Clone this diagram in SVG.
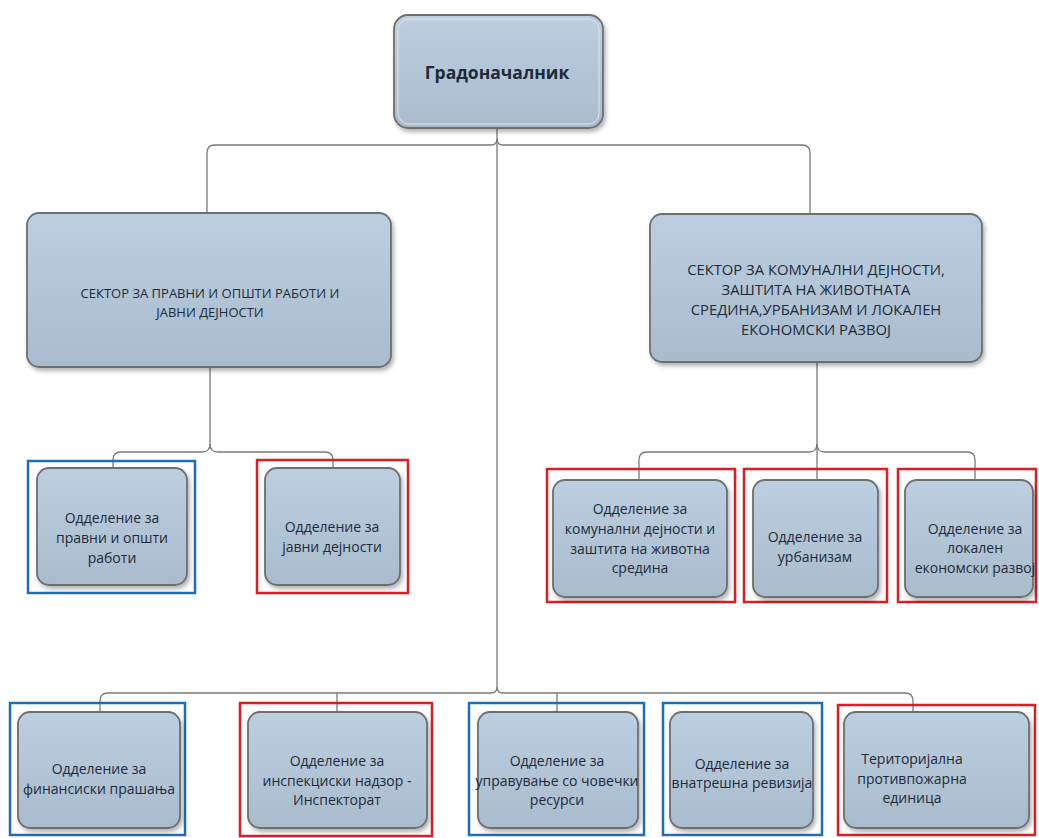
<svg xmlns="http://www.w3.org/2000/svg" width="1039" height="838" viewBox="0 0 1039 838">
<defs>
<linearGradient id="g" x1="0" y1="0" x2="0" y2="1">
<stop offset="0" stop-color="#bccfe1"/>
<stop offset="1" stop-color="#a8bcce"/>
</linearGradient>
<filter id="sh" x="-10%" y="-10%" width="125%" height="125%">
<feDropShadow dx="2" dy="3" stdDeviation="2" flood-color="#000" flood-opacity="0.3"/>
</filter>
<style>
.box{fill:url(#g);stroke:#6e6e6e;stroke-width:1.8;filter:url(#sh)}
.inner{fill:none;stroke:#dde6ef;stroke-width:1}
.conn{fill:none;stroke:#7a7a7a;stroke-width:1.3}
.fb{fill:none;stroke:#1c6fb5;stroke-width:2.5}
.fr{fill:none;stroke:#e01b22;stroke-width:2.5}
text{font-family:"Open Sans","Noto Sans",sans-serif;fill:#1e2a38;text-anchor:middle}
.t{font-size:14px}
.s{font-size:13px}
.s2{font-size:14.8px}
.h{font-size:17.5px;font-weight:bold}
</style>
</defs>
<rect width="1039" height="838" fill="#fff"/>
<g id="connectors">
<path class="conn" d="M497,128 V139 Q497,145 491,145 H215 Q207,145 207,153 V213"/>
<path class="conn" d="M497,139 Q497,145 503,145 H802 Q810,145 810,153 V214"/>
<path class="conn" d="M497,139 V687 Q497,693 491,693 H108 Q100,693 100,701 V712"/>
<path class="conn" d="M497,687 Q497,693 503,693 H905 Q913,693 913,701 V712"/>
<path class="conn" d="M337,693 V712 M557,693 V712"/>
<path class="conn" d="M210,367 V444 Q210,452 202,452 H121 Q113,452 113,460 V468"/>
<path class="conn" d="M210,444 Q210,452 218,452 H325 Q333,452 333,460 V468"/>
<path class="conn" d="M817,362 V444 Q817,452 809,452 H647 Q639,452 639,460 V480"/>
<path class="conn" d="M817,444 Q817,452 825,452 H967 Q975,452 975,460 V480"/>
<path class="conn" d="M817,444 V480"/>
</g>
<g id="mayor">
<rect class="box" x="394" y="15" width="209" height="113" rx="14"/>
<rect class="inner" x="398" y="19" width="201" height="105" rx="11"/>
<text class="h" x="497" y="79">Градоначалник</text>
</g>
<g id="sector1">
<rect class="box" x="27" y="213" width="364" height="154" rx="12"/>
<text class="s"><tspan x="210" y="298">СЕКТОР ЗА ПРАВНИ И ОПШТИ РАБОТИ И</tspan><tspan x="210" y="317">ЈАВНИ ДЕЈНОСТИ</tspan></text>
</g>
<g id="sector2">
<rect class="box" x="650" y="214" width="332" height="148" rx="12"/>
<text class="s2"><tspan x="816" y="275">СЕКТОР ЗА КОМУНАЛНИ ДЕЈНОСТИ,</tspan><tspan x="816" y="295">ЗАШТИТА НА ЖИВОТНАТА</tspan><tspan x="816" y="315">СРЕДИНА,УРБАНИЗАМ И ЛОКАЛЕН</tspan><tspan x="816" y="335">ЕКОНОМСКИ РАЗВОЈ</tspan></text>
</g>
<g id="dept-legal">
<rect class="fb" x="28" y="461" width="167" height="132"/>
<rect class="box" x="37" y="468" width="150" height="117" rx="12"/>
<text class="t"><tspan x="112" y="523">Одделение за</tspan><tspan x="112" y="543">правни и општи</tspan><tspan x="112" y="563">работи</tspan></text>
</g>
<g id="dept-public">
<rect class="fr" x="257" y="460" width="151" height="133"/>
<rect class="box" x="265" y="468" width="135" height="117" rx="12"/>
<text class="t"><tspan x="332" y="532">Одделение за</tspan><tspan x="332" y="552">јавни дејности</tspan></text>
</g>
<g id="dept-communal">
<rect class="fr" x="547" y="469" width="188" height="133"/>
<rect class="box" x="553" y="480" width="174" height="117" rx="12"/>
<text class="t"><tspan x="640" y="514">Одделение за</tspan><tspan x="640" y="534">комунални дејности и</tspan><tspan x="640" y="554">заштита на животна</tspan><tspan x="640" y="573">средина</tspan></text>
</g>
<g id="dept-urban">
<rect class="fr" x="744" y="469" width="143" height="133"/>
<rect class="box" x="753" y="480" width="125" height="117" rx="12"/>
<text class="t"><tspan x="815" y="542">Одделение за</tspan><tspan x="815" y="562">урбанизам</tspan></text>
</g>
<g id="dept-led">
<rect class="fr" x="898" y="469" width="138" height="133"/>
<rect class="box" x="905" y="480" width="128" height="117" rx="12"/>
<text class="t"><tspan x="975" y="534">Одделение за</tspan><tspan x="975" y="553">локален</tspan><tspan x="975" y="573">економски развој</tspan></text>
</g>
<g id="dept-finance">
<rect class="fb" x="10" y="703" width="175" height="132"/>
<rect class="box" x="18" y="712" width="162" height="116" rx="12"/>
<text class="t"><tspan x="99" y="774">Одделение за</tspan><tspan x="99" y="794">финансиски прашања</tspan></text>
</g>
<g id="dept-inspection">
<rect class="fr" x="240" y="703" width="192" height="133"/>
<rect class="box" x="248" y="712" width="179" height="116" rx="12"/>
<text class="t"><tspan x="337" y="766">Одделение за</tspan><tspan x="337" y="786">инспекциски надзор -</tspan><tspan x="337" y="805">Инспекторат</tspan></text>
</g>
<g id="dept-hr">
<rect class="fb" x="469" y="703" width="175" height="132"/>
<rect class="box" x="478" y="712" width="160" height="116" rx="12"/>
<text class="t"><tspan x="557" y="766">Одделение за</tspan><tspan x="557" y="786">управување со човечки</tspan><tspan x="557" y="805">ресурси</tspan></text>
</g>
<g id="dept-audit">
<rect class="fb" x="663" y="703" width="159" height="132"/>
<rect class="box" x="670" y="712" width="143" height="116" rx="12"/>
<text class="t"><tspan x="742" y="769">Одделение за</tspan><tspan x="742" y="788">внатрешна ревизија</tspan></text>
</g>
<g id="fire-unit">
<rect class="fr" x="838" y="705" width="197" height="130"/>
<rect class="box" x="844" y="712" width="185" height="116" rx="12"/>
<text class="t"><tspan x="912" y="764">Територијална</tspan><tspan x="912" y="784">противпожарна</tspan><tspan x="912" y="803">единица</tspan></text>
</g>
</svg>
